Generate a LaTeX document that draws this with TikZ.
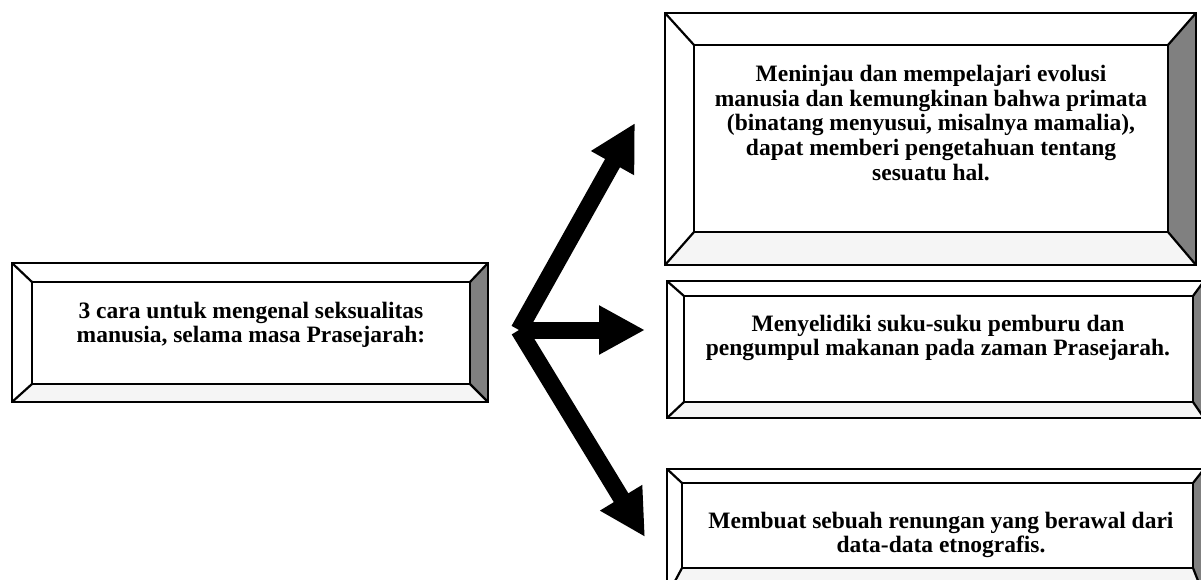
\documentclass[tikz,border=0pt]{standalone}
\usepackage{fontspec}
\setmainfont{Liberation Serif}
\usetikzlibrary{arrows.meta}
\tikzset{
  frame/.style={draw=black, line width=2.8pt, line join=miter},
  diag/.style={draw=black, line width=2.2pt},
  bevelright/.style={fill=black!50},
  bevelbottom/.style={fill=black!4},
  txt/.style={align=center, font=\bfseries\fontsize{23.5}{24.6}\selectfont, inner sep=0pt},
  bigarrow/.style={line width=17pt, line cap=butt, -{Triangle[length=46pt,width=46pt]}}
}
\newcommand\bevelbox[5]{%
  \coordinate (#1-onw) at #2; \coordinate (#1-ose) at #3;
  \coordinate (#1-inw) at #4; \coordinate (#1-ise) at #5;
  \fill[bevelright] (#1-ose |- #1-onw) -- (#1-ise |- #1-inw) -- (#1-ise) -- (#1-ose) -- cycle;
  \fill[bevelbottom] (#1-onw |- #1-ose) -- (#1-inw |- #1-ise) -- (#1-ise) -- (#1-ose) -- cycle;
  \draw[diag] (#1-onw) -- (#1-inw);
  \draw[diag] (#1-ose |- #1-onw) -- (#1-ise |- #1-inw);
  \draw[diag] (#1-onw |- #1-ose) -- (#1-inw |- #1-ise);
  \draw[diag] (#1-ose) -- (#1-ise);
  \draw[frame] (#1-onw) rectangle (#1-ose);
  \draw[frame] (#1-inw) rectangle (#1-ise);
}
\begin{document}
\begin{tikzpicture}[x=1pt,y=-1pt]
\useasboundingbox (0,0) rectangle (1201,579);
\clip (0,0) rectangle (1201,579);
\fill[white] (0,0) rectangle (1201,579);

% boxes
\bevelbox{L}{(12,263)}{(488,402)}{(32,282)}{(470,384)}
\bevelbox{A}{(665,13)}{(1196,265)}{(694,45)}{(1168,232)}
\bevelbox{B}{(667,281)}{(1204,418)}{(684,296)}{(1193,402)}
\bevelbox{C}{(667,469)}{(1204,596)}{(682,483)}{(1193,568)}

% texts
\node[txt] (t0) at (251,325) {3 cara untuk mengenal seksualitas\\manusia, selama masa Prasejarah:};
\node[txt] (t1) at (931,123) {Meninjau dan mempelajari evolusi\\manusia dan kemungkinan bahwa primata\\(binatang menyusui, misalnya mamalia),\\dapat memberi pengetahuan tentang\\sesuatu hal.};
\node[txt] (t2) at (938,338) {Menyelidiki suku-suku pemburu dan\\pengumpul makanan pada zaman Prasejarah.};
\node[txt] (t3) at (941,535) {Membuat sebuah renungan yang berawal dari\\data-data etnografis.};

% arrows
\coordinate (j) at (519,330);
\coordinate (tipA) at (635,123);
\coordinate (tipB) at (645,330);
\coordinate (tipC) at (645,537);
\draw[bigarrow] (j) -- (tipA);
\draw[bigarrow] (j) -- (tipC);
\draw[bigarrow] (j) -- (tipB);
\end{tikzpicture}
\end{document}
